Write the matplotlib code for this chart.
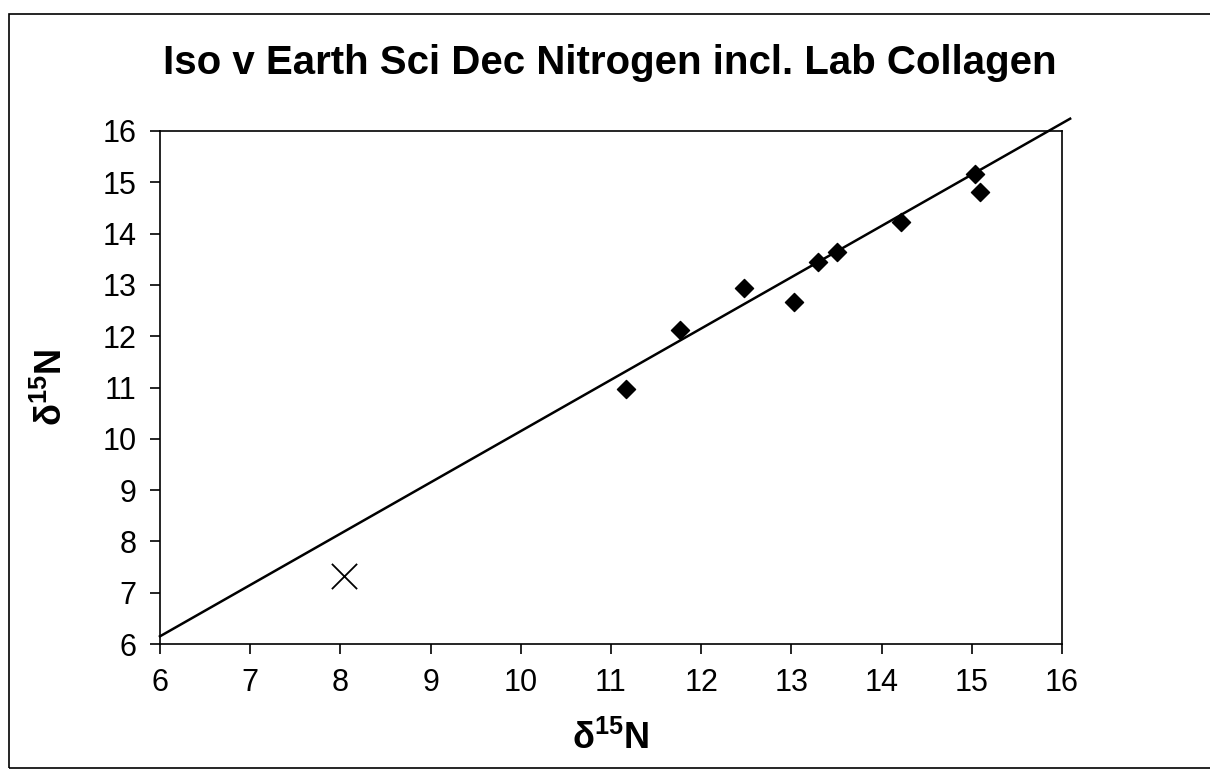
import numpy as np
import matplotlib.pyplot as plt
from matplotlib.patches import Rectangle

# Data
iso_x = [11.17, 11.76, 12.47, 13.03, 13.29, 13.51, 14.22, 15.04, 15.09]
iso_y = [10.98, 12.12, 12.93, 12.67, 13.45, 13.64, 14.22, 15.16, 14.82]
lab_x = [8.04]
lab_y = [7.33]

# Trendline (as drawn)
trend_slope = 1.0
trend_intercept = 0.15
trend_range = [6.0, 16.09]

ticks = list(range(6, 17))

plt.rcParams['font.family'] = ['Liberation Sans', 'DejaVu Sans']
plt.rcParams['mathtext.fontset'] = 'custom'
plt.rcParams['mathtext.rm'] = 'Liberation Sans'
plt.rcParams['mathtext.bf'] = 'Liberation Sans:bold'

fig = plt.figure(figsize=(12.1, 7.71), dpi=100)
ax = fig.add_axes([0.1322, 0.1647, 0.7455, 0.6654])

# outer chart frame
fig.patches.append(Rectangle((9 / 1210, 3 / 771), 1.2, 754 / 771,
                             transform=fig.transFigure, fill=False,
                             edgecolor='black', linewidth=1.2, clip_on=False))

ax.scatter(iso_x, iso_y, marker='D', s=85, color='black', zorder=3)
ax.scatter(lab_x, lab_y, marker='x', s=330, color='black', linewidths=1.3, zorder=3)

tx = np.array(trend_range)
ax.plot(tx, trend_slope * tx + trend_intercept, color='black', lw=1.8,
        clip_on=False, zorder=2)

ax.set_xlim(6, 16)
ax.set_ylim(6, 16)
ax.set_xticks(ticks)
ax.set_yticks(ticks)
ax.tick_params(direction='out', length=7, width=1.2, labelsize=22, pad=10)
for s in ax.spines.values():
    s.set_linewidth(1.2)

ax.set_xlabel(r'$\mathbf{\delta^{15}N}$', fontsize=26, labelpad=17)
ax.set_ylabel(r'$\mathbf{\delta^{15}N}$', fontsize=26, labelpad=23)

fig.text(0.504, 0.918, 'Iso v Earth Sci Dec Nitrogen incl. Lab Collagen',
         ha='center', va='center', fontsize=29, fontweight='bold')

fig.savefig('out.png', dpi=100)
